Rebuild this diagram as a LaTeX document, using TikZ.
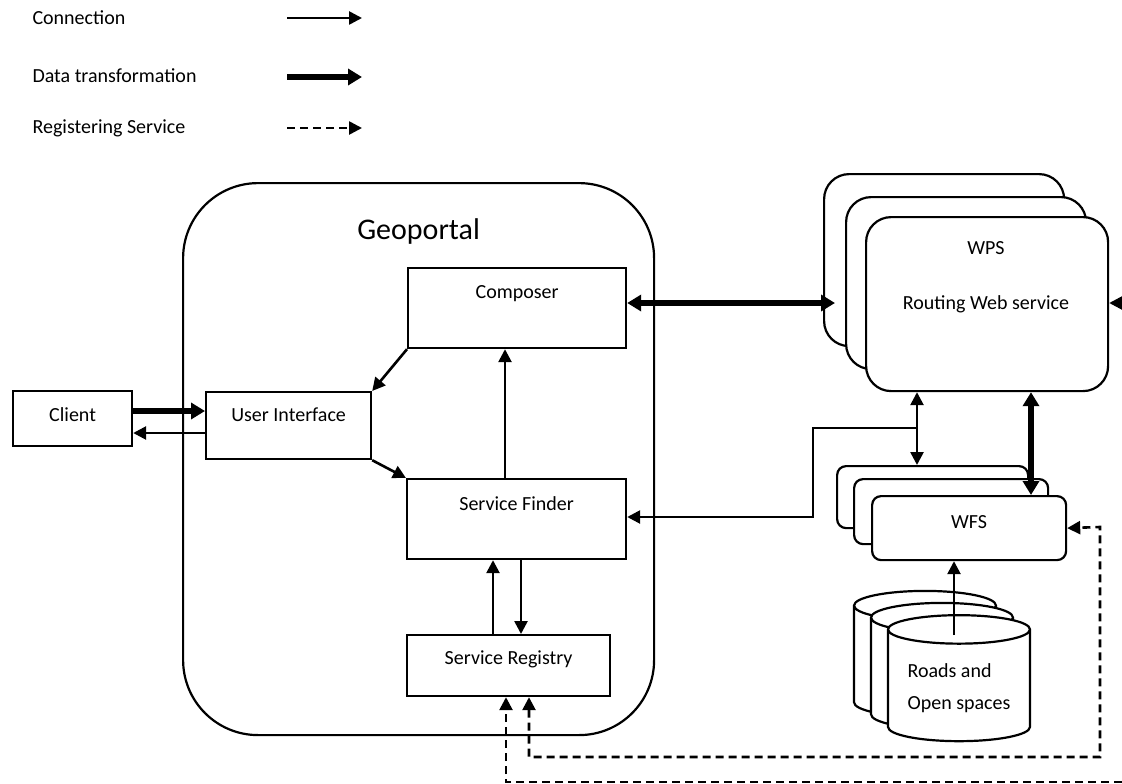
\documentclass[tikz,border=0pt]{standalone}
\usepackage{fontspec}
\setmainfont{Carlito}
\usetikzlibrary{arrows.meta,shapes.geometric}

\begin{document}
\begin{tikzpicture}[
    x=1pt, y=-1pt,
    font=\fontsize{20}{24}\selectfont,
    blk/.style={rectangle, draw, line width=2.2pt, fill=white, inner sep=0pt, anchor=north west},
    svc/.style={rectangle, rounded corners=25pt, draw, line width=2.2pt, fill=white, anchor=north west, minimum width=240pt, minimum height=172pt},
    wfs/.style={rectangle, rounded corners=9pt, draw, line width=2.2pt, fill=white, anchor=north west, inner sep=0pt},
    db/.style={cylinder, shape border rotate=90, aspect=0.26, draw, line width=2.2pt, fill=white, text width=106pt, minimum width=142pt, minimum height=126pt},
    conn/.style={->, >={Triangle[length=13pt,width=13pt]}, line width=2.6pt},
    dat/.style={->, >={Triangle[length=14pt,width=16pt]}, line width=5.5pt},
    reg/.style={->, >={Triangle[length=13pt,width=13pt]}, line width=2.6pt, dash pattern=on 8pt off 5pt}
  ]
  \useasboundingbox (0,0) rectangle (1122,784);

  % legend
  \node[anchor=west] (lgC) at (29,18) {Connection};
  \node[anchor=west] (lgD) at (29,76) {Data transformation};
  \node[anchor=west] (lgR) at (29,128) {Registering Service};
  \coordinate (lgCa) at (287,18);  \coordinate (lgCb) at (362,18);
  \coordinate (lgDa) at (287,77);  \coordinate (lgDb) at (362,77);
  \coordinate (lgRa) at (287,128); \coordinate (lgRb) at (362,128);
  \draw[conn] (lgCa) -- (lgCb);
  \draw[dat] (lgDa) -- (lgDb);
  \draw[reg] (lgRa) -- (lgRb);

  % geoportal
  \node[rectangle, draw, line width=2.2pt, rounded corners=75pt, anchor=north west, inner sep=0pt,
        minimum width=471pt, font=\fontsize{30}{36}\selectfont, text height=56pt, text depth=496pt] (geo) at (182,182) {Geoportal};
  \node[blk, minimum width=119pt, text height=30pt, text depth=25pt] (cli) at (12,390) {Client};
  \node[blk, minimum width=165pt, text height=29pt, text depth=38pt] (ui) at (205,391) {User Interface};
  \node[blk, minimum width=218pt, text height=30pt, text depth=50pt] (comp) at (407,267) {Composer};
  \node[blk, minimum width=219pt, text height=31pt, text depth=49pt] (sf) at (406,478) {Service Finder};
  \node[blk, minimum width=203pt, text height=29pt, text depth=32pt] (sr) at (406,634) {Service Registry};

  % WPS stack
  \node[svc] (wpsA) at (823,173) {};
  \node[svc] (wpsB) at (845,196) {};
  \node[svc, minimum width=242pt, minimum height=174pt] (wpsC) at (865,216) {};
  \node[anchor=base] (wpsT) at (986,254) {WPS};
  \node[anchor=base] (wpsR) at (986,309) {Routing Web service};

  % WFS stack
  \node[wfs, minimum width=191pt, minimum height=62pt] (wfsA) at (836,465) {};
  \node[wfs, minimum width=194pt, minimum height=65pt] (wfsB) at (853,478) {};
  \node[wfs, minimum width=194pt, text height=32pt, text depth=32pt] (wfsC) at (871,495) {WFS};

  % data stores
  \node[db] (dbA) at (925,664) {};
  \node[db] (dbB) at (942,676) {};
  \node[db, text width={}, align=left] (dbC) at (959,688) {Roads and\\[8pt]Open spaces};

  % connectors
  \draw[dat] (cli.east |- 0,411) -- (ui.west |- 0,411);
  \draw[conn] (ui.west |- 0,433) -- (cli.east |- 0,433);
  \draw[conn] (comp.south west) -- (ui.north east);
  \draw[conn] (ui.south east) -- (sf.north west);
  \draw[conn] (sf.north -| 505,0) -- (comp.south -| 505,0);
  \draw[conn] (sr.north -| 493,0) -- (sf.south -| 493,0);
  \draw[conn] (sf.south -| 521,0) -- (sr.north -| 521,0);

  \coordinate (wpsIn) at ([xshift=12pt]wpsA.west);
  \draw[dat,<->] (comp.east |- 0,303) -- (wpsIn |- 0,303);
  \coordinate (rin) at (1122,303);
  \draw[conn] (rin) -- (wpsC.east |- rin);

  \coordinate (xa) at (917,428);
  \coordinate (xb) at (813,517);
  \draw[conn,<->] (wpsC.south -| xa) -- (wfsA.north -| xa);
  \draw[conn] (xa) -| (xb) -- (sf.east |- xb);
  \coordinate (xc) at (1031,0);
  \draw[dat,<->] (wpsC.south -| xc) -- (wfsC.north -| xc);
  \coordinate (dbOut) at (954,635);
  \draw[conn] (dbOut) -- (wfsC.south -| dbOut);

  % registering
  \coordinate (ra) at (529,757);
  \coordinate (rb) at (1100,527);
  \draw[reg,<->] (sr.south -| ra) -- (ra) -| (rb) -- (wfsC.east);
  \coordinate (rc) at (1122,782);
  \coordinate (rd) at (506,782);
  \draw[reg] (rc) -- (rd) -- (sr.south -| rd);
\end{tikzpicture}
\end{document}
